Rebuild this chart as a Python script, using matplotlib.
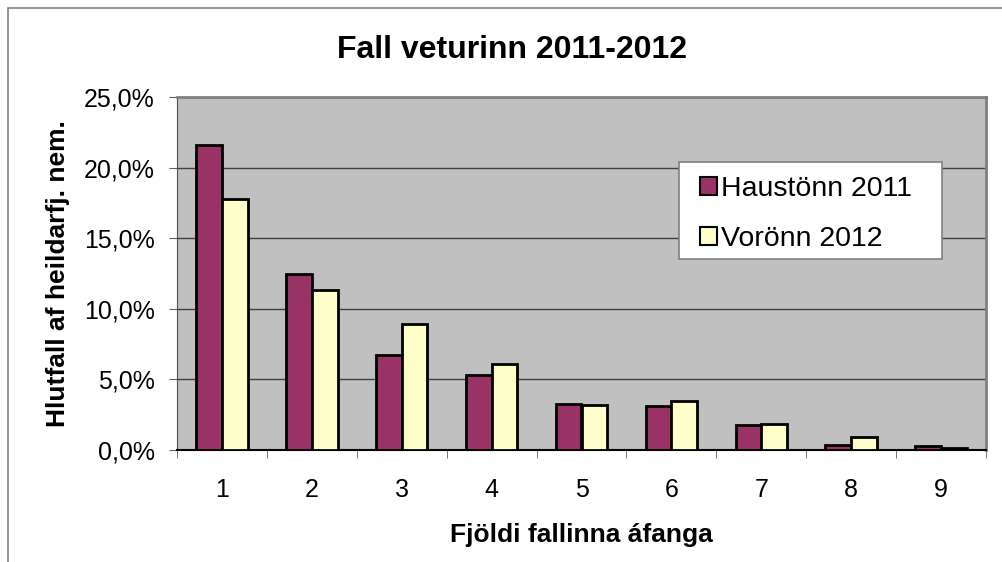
import numpy as np
import matplotlib
matplotlib.use('Agg')
import matplotlib.pyplot as plt
from matplotlib.ticker import FuncFormatter
from matplotlib.patches import Rectangle

plt.rcParams['font.family'] = ['Liberation Sans', 'DejaVu Sans']

categories = ['1', '2', '3', '4', '5', '6', '7', '8', '9']
haust_2011 = [21.6, 12.5, 6.7, 5.3, 3.25, 3.1, 1.77, 0.38, 0.28]
vor_2012 = [17.8, 11.35, 8.9, 6.1, 3.2, 3.5, 1.87, 0.92, 0.17]

W, H = 1002, 562
fig = plt.figure(figsize=(W / 100, H / 100), dpi=100)
fig.patch.set_facecolor('white')

# outer chart border
fig.add_artist(Rectangle((8 / W, -0.1), 1.2, (H - 8) / H + 0.1, transform=fig.transFigure,
                         fill=False, edgecolor='#808080', lw=1.2))

L, R, T, B = 177, 986, 97, 450
ax = fig.add_axes([L / W, 1 - B / H, (R - L) / W, (B - T) / H])
ax.set_facecolor('#c0c0c0')

x = np.arange(1, len(categories) + 1)
w = 1 / 3.5
ax.bar(x - w / 2, haust_2011, w, color='#993366', edgecolor='black', lw=2,
       label='Haustönn 2011', zorder=3)
ax.bar(x + w / 2, vor_2012, w, color='#ffffcc', edgecolor='black', lw=2,
       label='Vorönn 2012', zorder=3)

ax.set_xlim(0.5, 9.5)
ax.set_ylim(0, 25)
ax.set_yticks(np.arange(0, 26, 5))
ax.yaxis.set_major_formatter(FuncFormatter(lambda v, p: f'{v:.1f}%'.replace('.', ',')))
ax.grid(axis='y', color='#404040', lw=1, zorder=1)

ax.set_xticks(x)
ax.set_xticklabels(categories)
ax.set_xticks(np.arange(0.5, 10, 1), minor=True)
ax.tick_params(axis='x', which='major', length=0, pad=20, labelsize=18)
ax.tick_params(axis='x', which='minor', length=6, color='#606060', direction='out')
ax.tick_params(axis='y', length=6, color='#606060', labelsize=18, pad=10)

for s in ['top', 'right']:
    ax.spines[s].set_color('#808080')
    ax.spines[s].set_linewidth(2)
ax.spines['bottom'].set_color('black')
ax.spines['left'].set_color('#505050')
ax.spines['bottom'].set_linewidth(1.5)

ax.set_xlabel('Fjöldi fallinna áfanga', fontsize=19, fontweight='bold', labelpad=15)
ax.set_ylabel('Hlutfall af heildarfj. nem.', fontsize=19, fontweight='bold', labelpad=10)
fig.text(512 / W, 1 - 50 / H, 'Fall veturinn 2011-2012', fontsize=23, fontweight='bold',
         ha='center', va='center')

# legend box drawn as a patch, entries placed inside
def ax_x(px):
    return (px - L) / (R - L)

def ax_y(py):
    return (B - py) / (B - T)

ax.add_patch(Rectangle((ax_x(679), ax_y(259)), ax_x(942) - ax_x(679), ax_y(162) - ax_y(259),
                       transform=ax.transAxes, facecolor='white', edgecolor='#808080',
                       lw=1.2, zorder=4))
leg = ax.legend(loc='upper left', bbox_to_anchor=(ax_x(700), ax_y(176)),
                fontsize=20.5, frameon=False, handlelength=0.6, handleheight=0.6,
                handletextpad=0.15, labelspacing=0.85, borderpad=0, borderaxespad=0)
leg.set_zorder(5)
for h in leg.legend_handles:
    h.set_linewidth(1.5)

fig.savefig('out.png', dpi=100)
